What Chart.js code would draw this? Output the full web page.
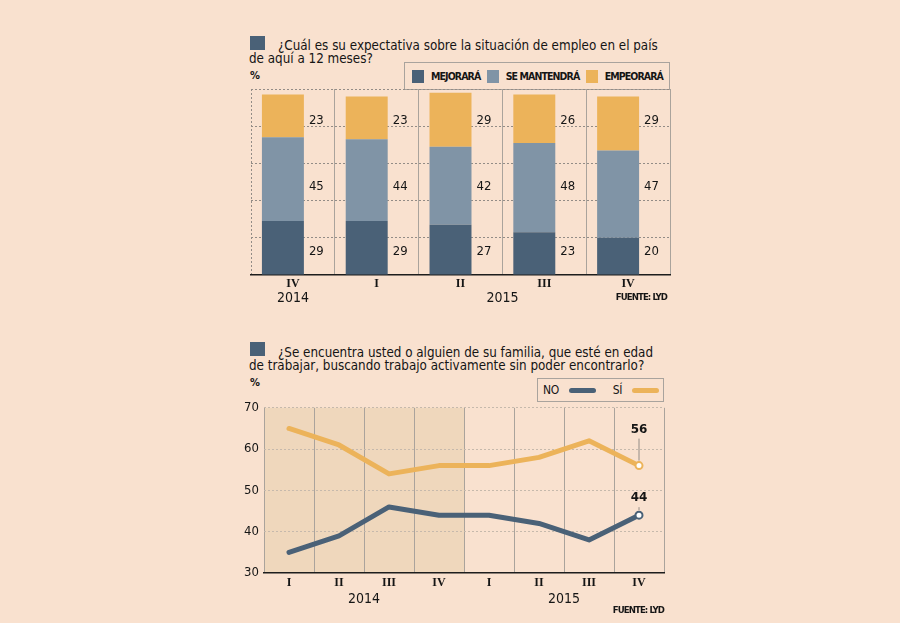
<!DOCTYPE html>
<html lang="es">
<head>
<meta charset="utf-8">
<title>Expectativa sobre el empleo</title>
<script src="https://cdn.jsdelivr.net/npm/chart.js@4.4.1/dist/chart.umd.min.js"></script>
<style>
  html, body { margin: 0; padding: 0; }
  body {
    width: 900px; height: 623px; position: relative; overflow: hidden;
    background: #f9e1cf; color: #151515;
    font-family: "DejaVu Sans Condensed", "DejaVu Sans", sans-serif;
  }
  .cuadro { position: absolute; left: 250px; width: 15px; height: 14px; background: #4a6177; }
  .titulo { position: absolute; left: 249px; width: 440px; font-size: 13.3px; line-height: 13px; text-indent: 29px; white-space: nowrap; }
  .pct { position: absolute; left: 250px; font-size: 11px; font-weight: bold; }
  .leyenda { position: absolute; box-sizing: border-box; border: 1px solid #a9a39d; display: flex; align-items: center; justify-content: space-between; }
  .leyenda span { display: inline-flex; align-items: center; }
  .leyenda i { display: inline-block; }
  #leyenda1 { left: 404px; top: 62px; width: 266px; height: 28px; padding: 0 6px 0 7px; font-size: 10.5px; font-weight: bold; letter-spacing: -0.9px; }
  #leyenda1 i { width: 12px; height: 13px; margin-right: 7px; }
  #leyenda2 { left: 537px; top: 378px; width: 127px; height: 24px; padding: 0 4px 0 5px; font-size: 12px; letter-spacing: -0.4px; }
  #leyenda2 i { width: 27px; height: 5px; border-radius: 3px; margin-left: 10px; }
  .fuente { position: absolute; font-size: 9.5px; font-weight: bold; letter-spacing: -0.9px; }
  canvas { position: absolute; }
</style>
</head>
<body>

<div class="cuadro" style="top:36px"></div>
<div class="titulo" style="top:39px">¿Cuál es su expectativa sobre la situación de empleo en el país<br>de aquí a 12 meses?</div>
<div class="pct" style="top:69px">%</div>
<div id="leyenda1" class="leyenda"></div>
<canvas id="graf1" width="440" height="235" style="left:240px; top:80px"></canvas>
<div class="fuente" style="right:233px; top:291px">FUENTE: LYD</div>

<div class="cuadro" style="top:342px"></div>
<div class="titulo" style="top:346px">¿Se encuentra usted o alguien de su familia, que esté en edad<br>de trabajar, buscando trabajo activamente sin poder encontrarlo?</div>
<div class="pct" style="top:376px">%</div>
<div id="leyenda2" class="leyenda"></div>
<canvas id="graf2" width="450" height="225" style="left:230px; top:395px"></canvas>
<div class="fuente" style="right:236px; top:604px">FUENTE: LYD</div>

<script>
// Datos gráfico 1 (barras apiladas)
const trimestres1 = ['IV', 'I', 'II', 'III', 'IV'];
const anios1 = ['2014', '2015', '2015', '2015', '2015'];
const mejorara = [29, 29, 27, 23, 20];
const seMantendra = [45, 44, 42, 48, 47];
const empeorara = [23, 23, 29, 26, 29];

// Datos gráfico 2 (líneas)
const trimestres2 = ['I', 'II', 'III', 'IV', 'I', 'II', 'III', 'IV'];
const anios2 = ['2014', '2014', '2014', '2014', '2015', '2015', '2015', '2015'];
const serieNo = [35, 39, 46, 44, 44, 42, 38, 44];
const serieSi = [65, 61, 54, 56, 56, 58, 62, 56];
const ticksY2 = [30, 40, 50, 60, 70];

// Colores
const OSCURO = '#4a6177';
const MEDIO = '#8094a6';
const NARANJA = '#ecb35a';
const SOMBRA = '#efd7bc';
const GRIS = '#aaa39c';
const GRIS_PUNTOS = '#938c86';

const fuenteSans = '"DejaVu Sans Condensed", "DejaVu Sans", sans-serif';
const fuenteSerif = '"Liberation Serif", "DejaVu Serif", serif';
Chart.defaults.font.family = fuenteSans;
Chart.defaults.color = '#151515';

const barras = [
  { label: 'MEJORARÁ', data: mejorara, backgroundColor: OSCURO },
  { label: 'SE MANTENDRÁ', data: seMantendra, backgroundColor: MEDIO },
  { label: 'EMPEORARÁ', data: empeorara, backgroundColor: NARANJA }
];
const lineas = [
  { label: 'NO', data: serieNo, color: OSCURO, subida: 17 },
  { label: 'SÍ', data: serieSi, color: NARANJA, subida: 36 }
];

// Leyendas
document.getElementById('leyenda1').innerHTML = barras
  .map(b => `<span><i style="background:${b.backgroundColor}"></i>${b.label}</span>`).join('');
document.getElementById('leyenda2').innerHTML = lineas
  .map(l => `<span>${l.label}<i style="background:${l.color}"></i></span>`).join('');

// Años centrados bajo sus trimestres
const aniosPlugin = {
  id: 'anios',
  afterDraw(chart, args, opts) {
    const {ctx} = chart;
    const x = chart.scales.x;
    ctx.save();
    ctx.font = '14px ' + fuenteSans;
    ctx.fillStyle = '#151515';
    ctx.textAlign = 'center';
    ctx.textBaseline = 'middle';
    let i = 0;
    while (i < opts.anios.length) {
      let j = i;
      while (j + 1 < opts.anios.length && opts.anios[j + 1] === opts.anios[i]) j++;
      const xc = (x.getPixelForTick(i) + x.getPixelForTick(j)) / 2;
      ctx.fillText(opts.anios[i], xc, chart.chartArea.bottom + opts.dy);
      i = j + 1;
    }
    ctx.restore();
  }
};

// Valores a la derecha de cada barra, una fila por serie
const valoresPlugin = {
  id: 'valores',
  afterDatasetsDraw(chart) {
    const {ctx} = chart;
    ctx.save();
    ctx.font = '13px ' + fuenteSans;
    ctx.fillStyle = '#151515';
    ctx.textBaseline = 'middle';
    chart.data.datasets.forEach((ds, i) => {
      if (ds.stack !== 'encuesta') return;
      const els = chart.getDatasetMeta(i).data;
      const fila = els.reduce((a, b) => a + (b.y + b.base) / 2, 0) / els.length;
      els.forEach((b, j) => ctx.fillText(ds.data[j], b.x + b.width / 2 + 5, fila + 1));
    });
    ctx.restore();
  }
};

// Fondo del año 2014
const sombraPlugin = {
  id: 'sombra',
  beforeDraw(chart, args, opts) {
    const {ctx, chartArea} = chart;
    const x = chart.scales.x;
    const idx = opts.anios.map((a, i) => a === opts.anio ? i : -1).filter(i => i >= 0);
    const mitad = (x.getPixelForTick(1) - x.getPixelForTick(0)) / 2;
    const x0 = x.getPixelForTick(idx[0]) - mitad;
    const x1 = x.getPixelForTick(idx[idx.length - 1]) + mitad;
    ctx.save();
    ctx.fillStyle = opts.color;
    ctx.fillRect(x0, chartArea.top, x1 - x0, chartArea.bottom - chartArea.top);
    ctx.restore();
  }
};

// Último valor de cada línea con su rayita
const ultimoPlugin = {
  id: 'ultimo',
  afterDatasetsDraw(chart) {
    const {ctx} = chart;
    ctx.save();
    chart.data.datasets.forEach((ds, i) => {
      const pts = chart.getDatasetMeta(i).data;
      const p = pts[pts.length - 1];
      const yTexto = p.y - ds.subida;
      ctx.strokeStyle = GRIS_PUNTOS;
      ctx.lineWidth = 1;
      ctx.beginPath();
      ctx.moveTo(p.x, yTexto + 9);
      ctx.lineTo(p.x, p.y - 5);
      ctx.stroke();
      ctx.font = 'bold 12px "DejaVu Sans", sans-serif';
      ctx.fillStyle = '#151515';
      ctx.textAlign = 'center';
      ctx.textBaseline = 'middle';
      ctx.fillText(ds.data[ds.data.length - 1], p.x, yTexto);
    });
    ctx.restore();
  }
};

const esBorde = (c, n) => c.index === 0 || c.index === n;

// Gráfico 1
new Chart(document.getElementById('graf1'), {
  type: 'bar',
  data: {
    labels: trimestres1,
    datasets: [
      ...barras.map(b => ({ ...b, stack: 'encuesta' })),
      // hueco vacío: deja la barra a la izquierda y el número a la derecha
      { label: '', data: trimestres1.map(() => null), stack: 'hueco' }
    ]
  },
  options: {
    responsive: false,
    animation: false,
    layout: { padding: { left: 11, right: 10, top: 9, bottom: 0 } },
    datasets: { bar: { categoryPercentage: 0.477, barPercentage: 2.1 } },
    plugins: {
      legend: { display: false },
      tooltip: { enabled: false },
      anios: { anios: anios1, dy: 23 }
    },
    scales: {
      x: {
        stacked: true,
        offset: true,
        grid: { offset: true, drawTicks: false, color: c => esBorde(c, trimestres1.length) ? GRIS_PUNTOS : GRIS },
        border: { color: '#1d1d1d', width: 1.5, dash: c => esBorde(c, trimestres1.length) ? [2, 2] : [] },
        ticks: { padding: 2, color: '#151515', font: { family: fuenteSerif, size: 12, weight: 'bold' } },
        afterFit: s => { s.height = 40; }
      },
      y: {
        stacked: true,
        min: 0,
        max: 100,
        ticks: { display: false, stepSize: 20 },
        grid: { drawTicks: false, color: c => c.tick.value === 0 ? 'rgba(0,0,0,0)' : GRIS_PUNTOS },
        border: { display: false, dash: [2, 2] },
        afterFit: s => { s.width = 0; }
      }
    }
  },
  plugins: [aniosPlugin, valoresPlugin]
});

// Gráfico 2
new Chart(document.getElementById('graf2'), {
  type: 'line',
  data: {
    labels: trimestres2,
    datasets: lineas.map(l => ({
      label: l.label,
      data: l.data,
      subida: l.subida,
      borderColor: l.color,
      borderWidth: 5,
      borderJoinStyle: 'round',
      borderCapStyle: 'round',
      tension: 0,
      pointRadius: c => c.dataIndex === l.data.length - 1 ? 3.5 : 0,
      pointBackgroundColor: '#fff',
      pointBorderColor: l.color,
      pointBorderWidth: 2
    }))
  },
  options: {
    responsive: false,
    animation: false,
    layout: { padding: { left: 0, right: 16, top: 10, bottom: 0 } },
    plugins: {
      legend: { display: false },
      tooltip: { enabled: false },
      anios: { anios: anios2, dy: 26 },
      sombra: { anios: anios2, anio: '2014', color: SOMBRA }
    },
    scales: {
      x: {
        offset: true,
        grid: { offset: true, drawTicks: false, color: GRIS },
        border: { color: '#1d1d1d', width: 1.5 },
        ticks: { padding: 3, color: '#151515', font: { family: fuenteSerif, size: 12, weight: 'bold' } },
        afterFit: s => { s.height = 47; }
      },
      y: {
        min: ticksY2[0],
        max: ticksY2[ticksY2.length - 1],
        afterBuildTicks: s => { s.ticks = ticksY2.map(v => ({ value: v })); },
        ticks: { padding: 5, color: '#151515', font: { size: 13 } },
        grid: { drawTicks: false, color: c => c.tick.value === ticksY2[0] ? 'rgba(0,0,0,0)' : '#c6b9ac' },
        border: { display: false, dash: [2, 2] },
        afterFit: s => { s.width = 34; }
      }
    }
  },
  plugins: [sombraPlugin, aniosPlugin, ultimoPlugin]
});
</script>
</body>
</html>
